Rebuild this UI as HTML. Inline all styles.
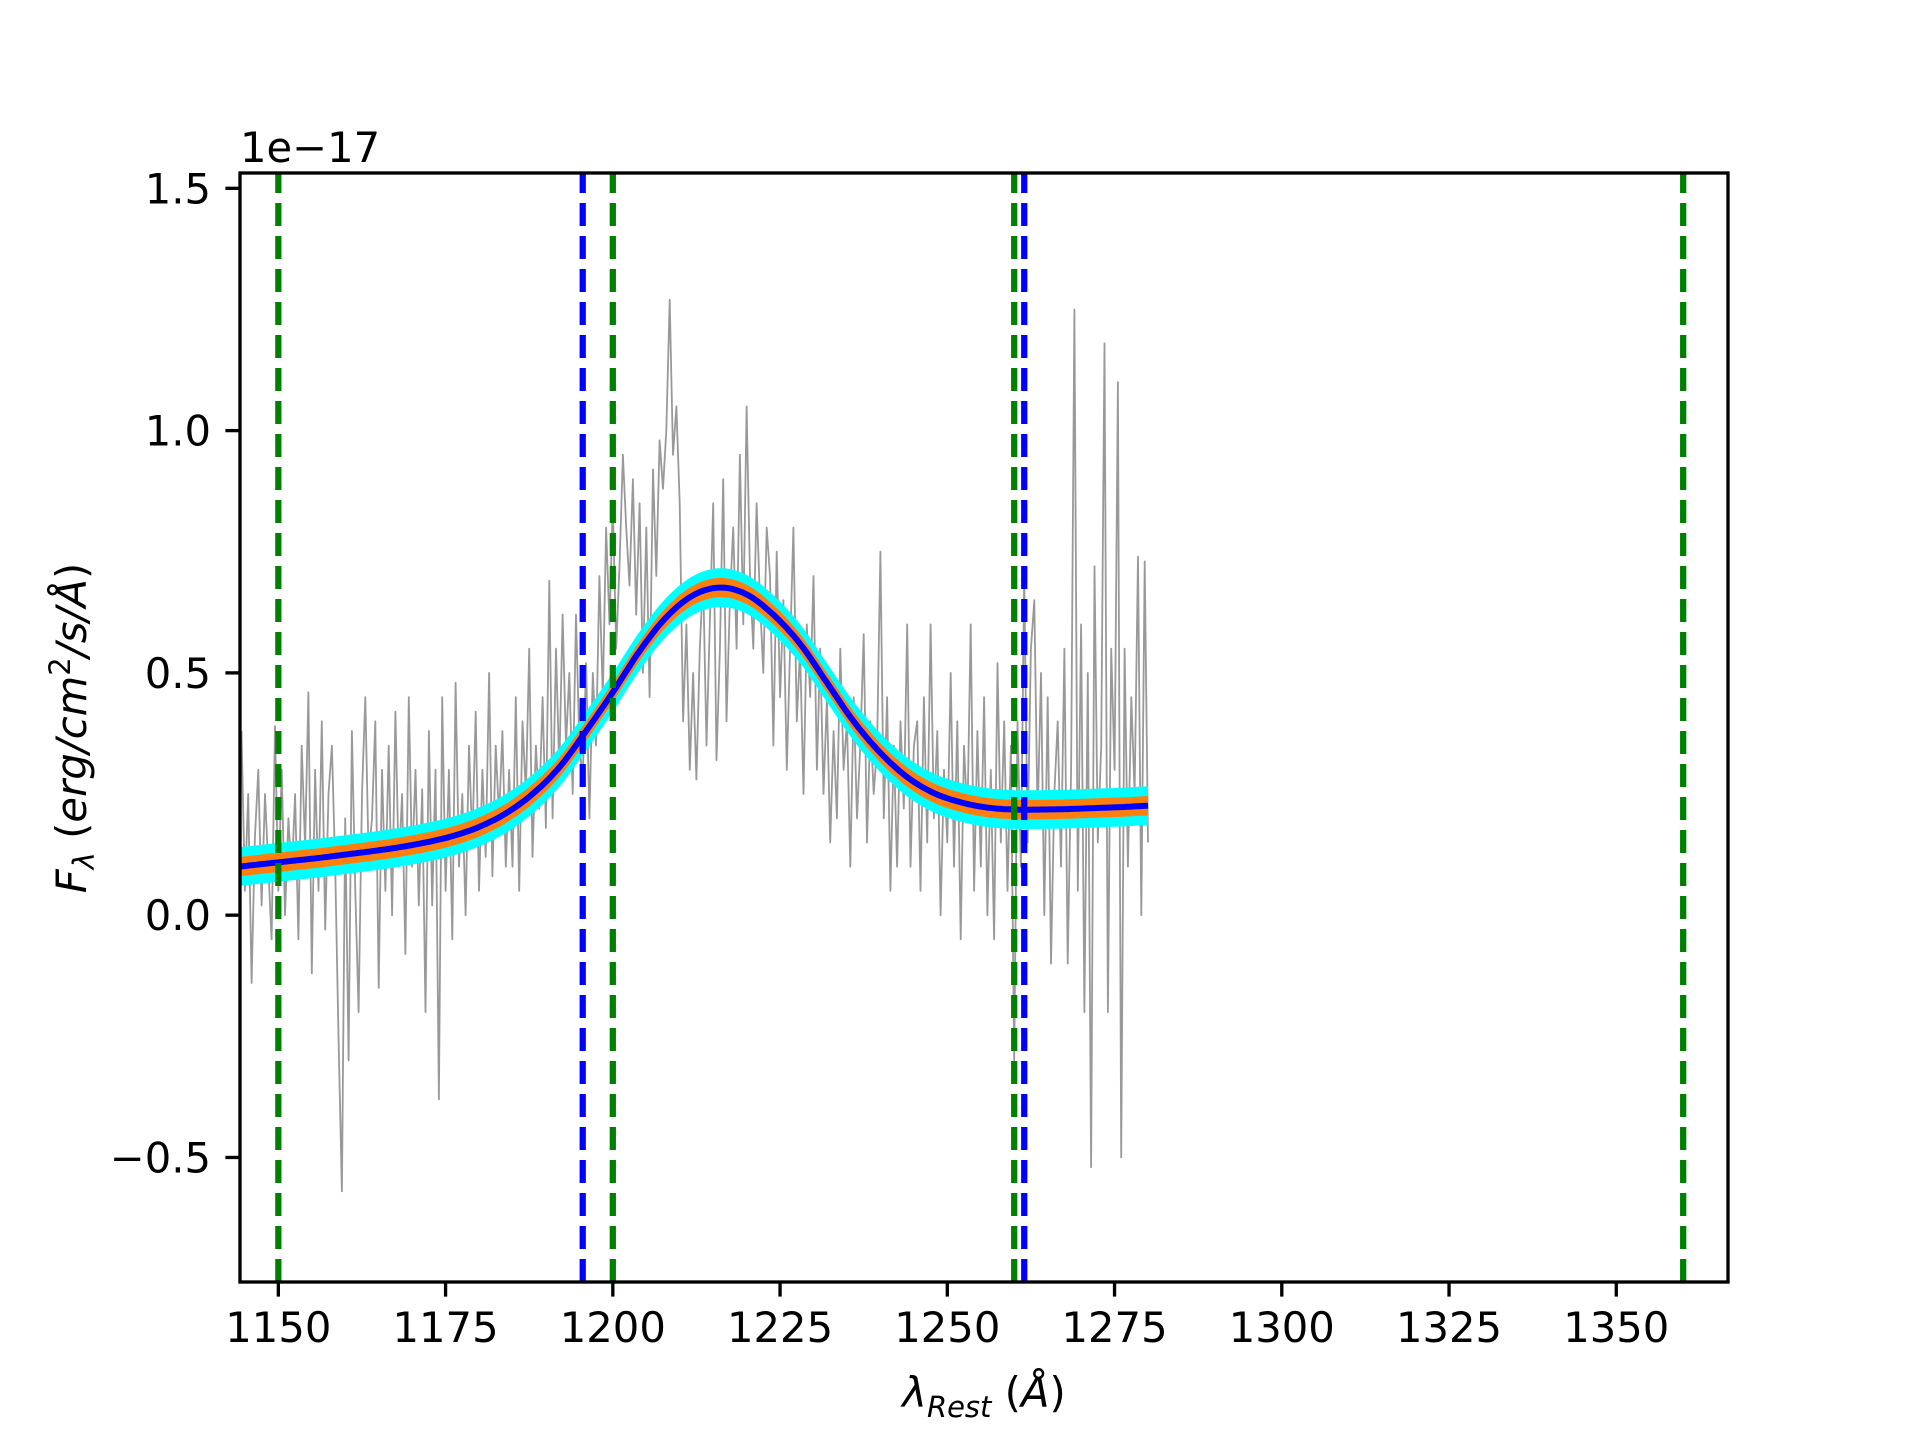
<!DOCTYPE html>
<html><head><meta charset="utf-8"><title>Spectrum fit</title>
<style>html,body{margin:0;padding:0;background:#fff;}svg{display:block;}text{font-family:"DejaVu Sans","Liberation Sans",sans-serif;fill:#000;}</style>
</head><body>
<svg id="chart" width="1920" height="1440" viewBox="0 0 1920 1440" xmlns="http://www.w3.org/2000/svg">
<rect width="1920" height="1440" fill="#fff"/>
<g id="plot"></g>
<g id="axes"></g>
<text x="240" y="162" font-size="41.7">1e−17</text>
<text x="984" y="1407" font-size="41.7" text-anchor="middle"><tspan font-style="italic">λ</tspan><tspan font-size="29" dy="10" font-style="italic">Rest</tspan><tspan dy="-10"> (</tspan><tspan font-style="italic">Å</tspan><tspan>)</tspan></text>
<text transform="translate(86,728) rotate(-90)" font-size="41.7" text-anchor="middle"><tspan font-style="italic">F</tspan><tspan font-size="29" dy="8" font-style="italic">λ</tspan><tspan dy="-8"> (</tspan><tspan font-style="italic">erg/cm</tspan><tspan font-size="29" dy="-16">2</tspan><tspan dy="16" font-style="italic">/s/Å</tspan><tspan>)</tspan></text>
</svg>
<script>
const xTicks = [1150,1175,1200,1225,1250,1275,1300,1325,1350];
const xTickLabels = ["1150","1175","1200","1225","1250","1275","1300","1325","1350"];
const yTicks = [-0.5,0,0.5,1.0,1.5];
const yTickLabels = ["−0.5","0.0","0.5","1.0","1.5"];
const specStart = 1144.5;
const specStep = 0.5;
const specFlux = [
0.38,0.05,0.25,-0.14,0.16,0.30,0.02,0.25,0.10,-0.05,
0.39,0.05,0.30,0.00,0.20,0.08,0.25,-0.05,0.35,0.14,
0.46,-0.12,0.30,0.05,0.40,-0.03,0.25,0.35,0.10,-0.25,
-0.57,0.20,-0.30,0.38,0.05,-0.20,0.25,0.45,0.12,0.20,
0.40,-0.15,0.30,0.05,0.35,0.00,0.42,0.10,0.25,-0.08,
0.45,0.10,0.30,0.02,0.26,-0.20,0.38,0.02,0.30,-0.38,
0.45,0.05,0.30,-0.05,0.48,0.10,0.25,0.00,0.35,0.15,
0.42,0.05,0.30,0.12,0.50,0.08,0.35,0.20,0.38,0.10,
0.30,0.10,0.45,0.05,0.40,0.25,0.55,0.12,0.35,0.22,
0.45,0.18,0.69,0.20,0.55,0.30,0.62,0.35,0.50,0.25,
0.62,0.35,0.28,0.52,0.20,0.50,0.35,0.70,0.45,0.80,
0.60,0.85,0.55,0.72,0.95,0.80,0.68,0.90,0.62,0.85,
0.50,0.80,0.45,0.92,0.70,0.98,0.88,1.00,1.27,0.95,
1.05,0.85,0.40,0.60,0.30,0.50,0.28,0.55,0.70,0.35,
0.60,0.85,0.32,0.55,0.90,0.40,0.65,0.80,0.55,0.95,
0.60,1.05,0.70,0.55,0.85,0.65,0.50,0.80,0.70,0.35,
0.75,0.45,0.65,0.30,0.55,0.80,0.40,0.55,0.25,0.60,
0.45,0.70,0.30,0.55,0.25,0.45,0.15,0.38,0.20,0.55,
0.30,0.40,0.10,0.45,0.20,0.35,0.58,0.15,0.40,0.25,
0.35,0.75,0.20,0.45,0.05,0.35,0.10,0.40,0.22,0.60,
0.10,0.35,0.40,0.05,0.45,0.15,0.60,0.20,0.38,0.00,
0.30,0.15,0.50,0.10,0.40,-0.05,0.35,0.20,0.60,0.05,
0.38,0.10,0.45,0.00,0.30,-0.05,0.52,0.15,0.40,0.05,
0.35,-0.30,0.40,0.10,0.70,0.15,0.55,0.65,0.20,0.50,
0.00,0.45,-0.10,0.25,0.40,0.10,0.55,-0.10,0.30,1.25,
0.05,0.60,-0.20,0.50,-0.52,0.72,0.15,0.35,1.18,-0.20,
0.55,0.30,1.10,-0.50,0.55,0.10,0.45,0.25,0.74,0.00,
0.73,0.15];
const modelWave = [1144,1148,1152,1156,1160,1164,1168,1172,1176,1180,1184,1188,1192,1196,1200,1204,1208,1212,1216,1220,1224,1228,1232,1236,1240,1244,1248,1252,1256,1260,1264,1268,1272,1276,1280];
const modelFlux = [0.100,0.106,0.112,0.118,0.125,0.132,0.140,0.150,0.163,0.182,0.210,0.250,0.305,0.380,0.460,0.545,0.615,0.660,0.676,0.662,0.620,0.560,0.480,0.400,0.335,0.285,0.252,0.233,0.222,0.218,0.218,0.219,0.221,0.223,0.226];
const cyanHalf = 0.040;
const orangeHalf = 0.02;
const greenLines = [1150,1200,1260,1360];
const blueLines = [1195.5,1261.5];

const X0=240,X1=1728,Y0=173,Y1=1282;
const xmin=1144.27,xmax=1366.7,ymin=-0.757,ymax=1.5316;
function sx(v){return X0+(v-xmin)/(xmax-xmin)*(X1-X0);}
function sy(v){return Y1-(v-ymin)/(ymax-ymin)*(Y1-Y0);}
const NS="http://www.w3.org/2000/svg";
const plot=document.getElementById('plot');
const axes=document.getElementById('axes');
function mk(tag,attrs,parent){const e=document.createElementNS(NS,tag);for(const k in attrs)e.setAttribute(k,attrs[k]);parent.appendChild(e);return e;}

const defs=mk('defs',{},plot);
const cp=mk('clipPath',{id:'clip'},defs);
mk('rect',{x:X0,y:Y0,width:X1-X0,height:Y1-Y0},cp);
const g=mk('g',{'clip-path':'url(#clip)'},plot);

let d='';
specFlux.forEach((v,i)=>{const x=specStart+i*specStep;d+=(i?'L':'M')+sx(x).toFixed(1)+' '+sy(v).toFixed(1);});
const spec=mk('path',{d:d,fill:'none',stroke:'#999999','stroke-width':1.8,'stroke-linejoin':'round'},g);



function smoothPts(off){
  const pts=modelWave.map((w,i)=>[sx(w),sy(modelFlux[i]+off)]);
  const out=[];
  for(let i=0;i<pts.length-1;i++){
    const p0=pts[Math.max(0,i-1)],p1=pts[i],p2=pts[i+1],p3=pts[Math.min(pts.length-1,i+2)];
    for(let t=0;t<1;t+=0.1){
      const t2=t*t,t3=t2*t;
      out.push([0.5*((2*p1[0])+(-p0[0]+p2[0])*t+(2*p0[0]-5*p1[0]+4*p2[0]-p3[0])*t2+(-p0[0]+3*p1[0]-3*p2[0]+p3[0])*t3),
                0.5*((2*p1[1])+(-p0[1]+p2[1])*t+(2*p0[1]-5*p1[1]+4*p2[1]-p3[1])*t2+(-p0[1]+3*p1[1]-3*p2[1]+p3[1])*t3)]);
    }
  }
  out.push(pts[pts.length-1]);
  return out;
}
function band(h,color,name){
  const up=smoothPts(h),lo=smoothPts(-h).reverse();
  const dd='M'+up.concat(lo).map(p=>p[0].toFixed(1)+' '+p[1].toFixed(1)).join('L')+'Z';
  const e=mk('path',{d:dd,fill:color,stroke:'none'},g);
  
  
}
band(cyanHalf,'#00ffff','model-band-outer');
band(orangeHalf,'#ff7f0e','model-band-inner');
const mp=smoothPts(0);
const model=mk('path',{d:'M'+mp.map(p=>p[0].toFixed(1)+' '+p[1].toFixed(1)).join('L'),fill:'none',stroke:'#0000ff','stroke-width':6,'stroke-linejoin':'round'},g);



function vline(w,color,name){
  const e=mk('line',{x1:sx(w),x2:sx(w),y1:Y1,y2:Y0,stroke:color,'stroke-width':6.25,'stroke-dasharray':'23 10'},g);
  
  
}
blueLines.forEach(w=>vline(w,'#0000ff','blue-marker-line'));
greenLines.forEach(w=>vline(w,'#008000','green-window-line'));

const frame=mk('rect',{x:X0,y:Y0,width:X1-X0,height:Y1-Y0,fill:'none',stroke:'#000','stroke-width':3.33},axes);


xTicks.forEach((t,i)=>{
  const x=sx(t);
  const tk=mk('line',{x1:x,x2:x,y1:Y1,y2:Y1+14.6,stroke:'#000','stroke-width':3.33},axes);
  
  
  const tx=mk('text',{x:x,y:Y1+60,'font-size':41.7,'text-anchor':'middle'},axes);
  tx.textContent=xTickLabels[i];
  
  
});
yTicks.forEach((t,i)=>{
  const y=sy(t);
  const tk=mk('line',{x1:X0-14.6,x2:X0,y1:y,y2:y,stroke:'#000','stroke-width':3.33},axes);
  
  
  const tx=mk('text',{x:X0-29,y:y+15,'font-size':41.7,'text-anchor':'end'},axes);
  tx.textContent=yTickLabels[i];
  
  
});
</script>
</body></html>
